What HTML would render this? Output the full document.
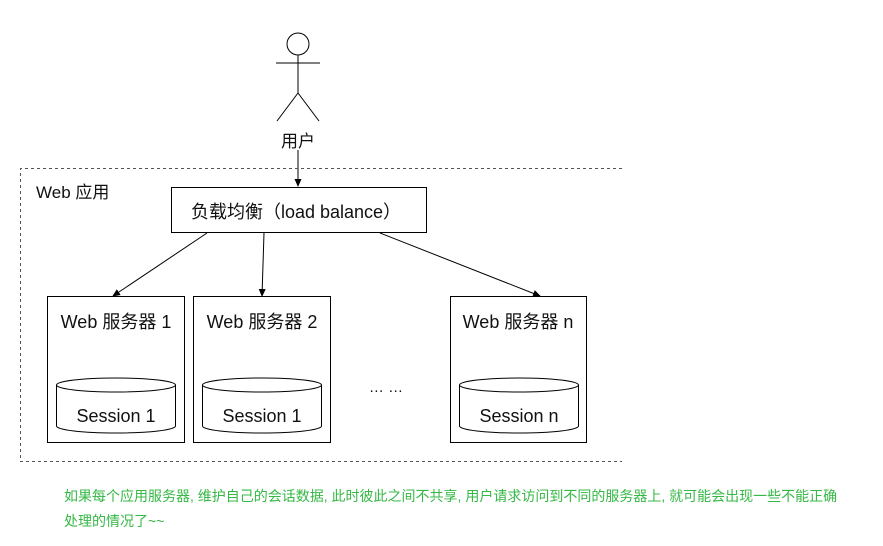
<!DOCTYPE html>
<html><head><meta charset="utf-8"><style>
body{margin:0;background:#fff;width:883px;height:546px;overflow:hidden}
svg text{font-family:"Liberation Sans","Noto Sans CJK SC",sans-serif;fill:#111}
.g{position:absolute;left:64px;font:14px "Liberation Sans","Noto Sans CJK SC",sans-serif;color:#35b845;white-space:nowrap}
</style></head><body>
<svg width="883" height="546" style="position:absolute;left:0;top:0">
<defs><marker id="a" markerWidth="8" markerHeight="8" refX="7" refY="4" orient="auto" markerUnits="userSpaceOnUse"><path d="M0,0.5 L8,4 L0,7.5 Z" fill="#000"/></marker></defs>
<g stroke="#000" fill="none" stroke-width="1">
<circle cx="298" cy="44" r="11"/>
<line x1="298" y1="55" x2="298" y2="93"/>
<line x1="276" y1="63" x2="320" y2="63"/>
<line x1="298" y1="93" x2="277" y2="121"/>
<line x1="298" y1="93" x2="319" y2="121"/>
<line x1="298" y1="150" x2="298" y2="186" marker-end="url(#a)"/>
<path d="M622,168.5 H20.5 V461.5 H622" stroke="#555" stroke-dasharray="3,3"/>
<rect x="171.5" y="187.5" width="255" height="45"/>
<line x1="207" y1="233" x2="113" y2="296" marker-end="url(#a)"/>
<line x1="264" y1="233" x2="262" y2="296" marker-end="url(#a)"/>
<line x1="380" y1="233" x2="540" y2="296" marker-end="url(#a)"/>
<rect x="47.5" y="296.5" width="137" height="146"/>
<rect x="193.5" y="296.5" width="137" height="146"/>
<rect x="450.5" y="296.5" width="136" height="146"/>
<g id="c"><path d="M56.5,385 V426 A59.5,7 0 0 0 175.5,426 V385"/><ellipse cx="116" cy="385" rx="59.5" ry="7"/></g>
<use href="#c" x="146"/>
<use href="#c" x="403"/>
</g>
<text x="298" y="147" font-size="17" text-anchor="middle">用户</text>
<text x="36" y="198" font-size="17">Web 应用</text>
<text x="296" y="218" font-size="18" text-anchor="middle">负载均衡（load balance）</text>
<text x="116" y="328" font-size="18" text-anchor="middle">Web 服务器 1</text>
<text x="262" y="328" font-size="18" text-anchor="middle">Web 服务器 2</text>
<text x="518" y="328" font-size="18" text-anchor="middle">Web 服务器 n</text>
<text x="116" y="422" font-size="18" text-anchor="middle">Session 1</text>
<text x="262" y="422" font-size="18" text-anchor="middle">Session 1</text>
<text x="519" y="422" font-size="18" text-anchor="middle">Session n</text>
<text x="386" y="392" font-size="15" text-anchor="middle">… …</text>
</svg>
<div class="g" style="top:486px">如果每个应用服务器, 维护自己的会话数据, 此时彼此之间不共享, 用户请求访问到不同的服务器上, 就可能会出现一些不能正确</div>
<div class="g" style="top:511px">处理的情况了~~</div>
</body></html>
